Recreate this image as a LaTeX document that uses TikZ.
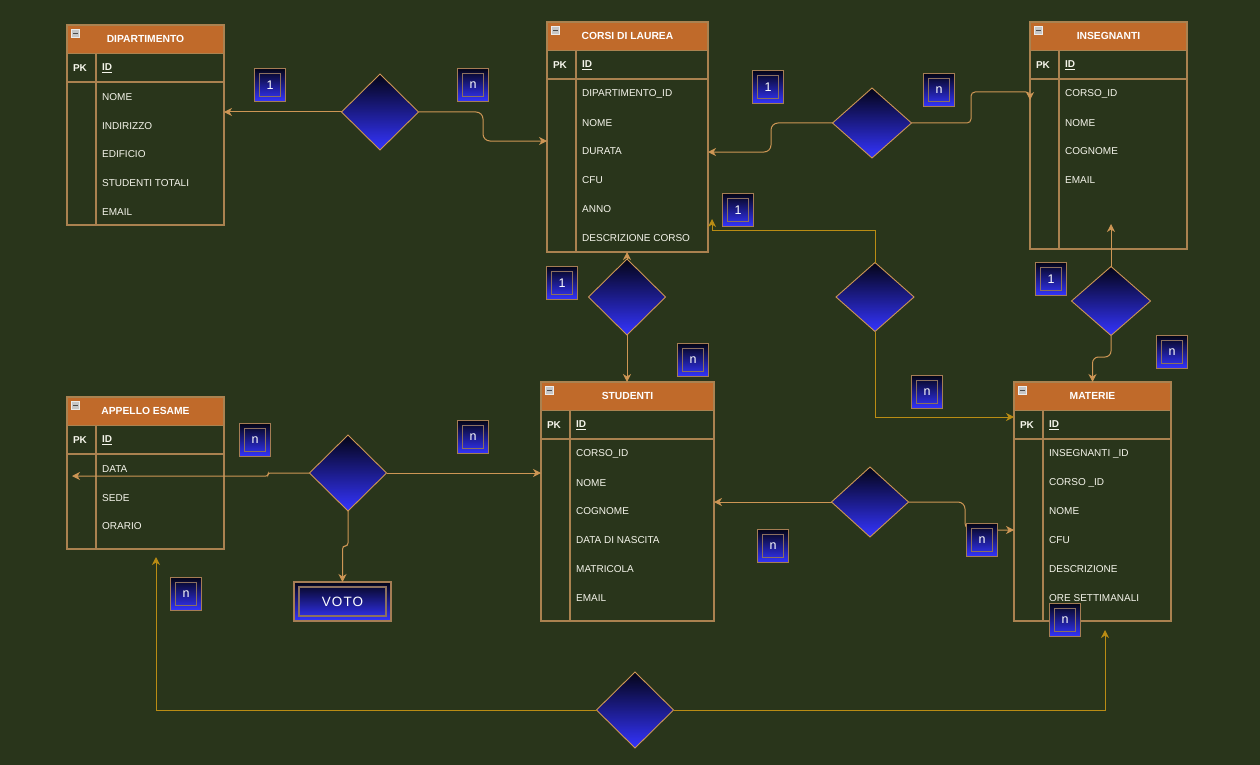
\documentclass[tikz,border=0pt]{standalone}
\usepackage{fontspec}
\setmainfont{Liberation Sans}
\usetikzlibrary{arrows.meta,shapes.geometric}
\definecolor{bg}{RGB}{41,53,27}
\definecolor{hdr}{RGB}{192,106,42}
\definecolor{frame}{RGB}{170,130,80}
\definecolor{conn}{RGB}{205,150,85}
\definecolor{gold}{RGB}{185,140,20}
\definecolor{gtop}{RGB}{4,4,22}
\definecolor{gbot}{RGB}{52,52,255}
\definecolor{cardedge}{RGB}{165,125,85}
\definecolor{cardin}{RGB}{140,112,95}
\definecolor{txt}{RGB}{245,245,235}
\tikzset{
 tframe/.style={draw=frame, line width=1.2pt, inner sep=0pt, outer sep=0pt},
 thead/.style={draw=frame, line width=1.2pt, fill=hdr, inner sep=0pt, outer sep=0pt, text=white, font=\fontsize{10.3}{12}\selectfont\bfseries},
 tline/.style={draw=frame, line width=1.2pt},
 attr/.style={text=txt, font=\fontsize{10}{12}\selectfont, inner sep=0pt, anchor=west},
 pkey/.style={text=txt, font=\fontsize{10}{12}\selectfont\bfseries, inner sep=0pt},
 rel/.style={diamond, draw=conn, line width=0.9pt, top color=gtop, bottom color=gbot, minimum width=77pt, minimum height=76pt, inner sep=0pt, outer sep=0pt, aspect=1},
 card/.style={rectangle, minimum width=31pt, minimum height=33pt, inner sep=0pt, outer sep=0pt, top color=gtop, bottom color=gbot, draw=cardedge, line width=1.5pt, text=white, font=\fontsize{12.5}{14}\selectfont,
   path picture={\draw[cardin, line width=1.5pt] ([shift={(5pt,5pt)}]path picture bounding box.south west) rectangle ([shift={(-5pt,-5pt)}]path picture bounding box.north east);}},
 votobox/.style={rectangle, minimum width=97pt, minimum height=39pt, inner sep=0pt, outer sep=0pt, top color=gtop, bottom color=gbot, draw=cardedge, line width=1.5pt, text=white, font=\fontsize{13.5}{15}\selectfont\addfontfeature{LetterSpace=8},
   path picture={\draw[cardin, line width=1.5pt] ([shift={(5pt,5pt)}]path picture bounding box.south west) rectangle ([shift={(-5pt,-5pt)}]path picture bounding box.north east);}},
 wire/.style={draw=conn, line width=1pt, -{Stealth[length=8pt,width=8pt,inset=2.5pt]}},
 goldwire/.style={draw=gold, line width=1pt, -{Stealth[length=8pt,width=8pt,inset=2.5pt]}},
}
\newcommand\ertable[7]{%
 \node[tframe, anchor=north west, minimum width=#4pt, minimum height=#5pt] (#1) at (#2,#3) {};
 \node[thead, anchor=north west, minimum width=#4pt, minimum height=28.5pt] (#1-h) at (#2,#3) {#6};
 \draw[tline] ({#2},{#3+57}) -- ({#2+#4},{#3+57});
 \draw[tline] ({#2+29},{#3+28.5}) -- ({#2+29},{#3+#5});
 \filldraw[fill=gray!45, draw=gray!15, line width=0.6pt] ({#2+4.5},{#3+4.5}) rectangle ({#2+12.5},{#3+12});
 \draw[black!70, line width=1.3pt] ({#2+6},{#3+8.2}) -- ({#2+11},{#3+8.2});
 \node[pkey] (#1-pk) at ({#2+13},{#3+43}) {PK};
 \node[pkey, anchor=west] (#1-id) at ({#2+35},{#3+43}) {\underline{ID}};
 \foreach \rowtxt [count=\ri from 0] in {#7} \node[attr] (#1-r\ri) at ({#2+35},{#3+72+28.75*\ri}) {\rowtxt};
}
\begin{document}
\begin{tikzpicture}[x=1pt,y=-1pt]
\fill[bg] (0,0) rectangle (1260,765);
\useasboundingbox (0,0) rectangle (1260,765);

% entities
\ertable{dip}{67}{25}{157}{200}{DIPARTIMENTO}{NOME,INDIRIZZO,EDIFICIO,STUDENTI TOTALI,EMAIL}
\ertable{cdl}{547}{22}{161}{230}{CORSI DI LAUREA}{DIPARTIMENTO\_ID,NOME,DURATA,CFU,ANNO,DESCRIZIONE CORSO}
\ertable{ins}{1030}{22}{157}{227}{INSEGNANTI}{CORSO\_ID,NOME,COGNOME,EMAIL}
\ertable{stu}{541}{382}{173}{239}{STUDENTI}{CORSO\_ID,NOME,COGNOME,DATA DI NASCITA,MATRICOLA,EMAIL}
\ertable{mat}{1014}{382}{157}{239}{MATERIE}{INSEGNANTI \_ID,CORSO \_ID,NOME,CFU,DESCRIZIONE,ORE SETTIMANALI}
\ertable{app}{67}{397}{157}{152}{APPELLO ESAME}{DATA,SEDE,ORARIO}

% relationships
\node[rel] (r1) at (380,112) {};
\node[rel, minimum width=79pt, minimum height=70pt] (r2) at (872,123) {};
\node[rel] (r3) at (627,297) {};
\node[rel, minimum width=78pt, minimum height=69pt] (r4) at (875,297) {};
\node[rel, minimum width=79pt, minimum height=69pt] (r5) at (1111,301) {};
\node[rel] (r6) at (348,473) {};
\node[rel, minimum height=70pt] (r7) at (870,502) {};
\node[rel] (r8) at (635,710) {};

\node[votobox] (voto) at (342.5,601.5) {VOTO};

% connectors
\draw[wire] (r1.west) -- (r1.west -| dip.east);
\draw[wire, rounded corners=7pt] (r1.east) -- (483,112) -- (483,141) -- (cdl.west |- 0,141);
\draw[wire, rounded corners=7pt] (r2.west) -- (771,123) -- (771,152) -- (cdl.east |- 0,152);
\draw[wire, rounded corners=4pt] (r2.east) -- (971,123) -- (971,92) -- (ins.west |- 0,92) -- (ins.west |- 0,100);
\draw[wire] (r3.north) -- (r3.north |- cdl.south);
\draw[wire] (r3.south) -- (r3.south |- stu.north);
\draw[goldwire] (r4.north) |- (712,230) -- (712,219);
\draw[goldwire] (r4.south) |- (mat.west |- 0,417);
\draw[wire] (r5.north) -- (r5.north |- 0,224);
\draw[wire, rounded corners=6pt] (r5.south) -- (1111,357) -- (1092.5,357) -- (mat.north);
\draw[wire, rounded corners=2pt] (r6.west) -- (268,473) -- (268,476) -- (72,476);
\draw[wire] (r6.east) -- (r6.east -| stu.west);
\draw[wire, rounded corners=3pt] (r6.south) -- (348,546) -- (342.5,546) -- (voto.north);
\draw[wire] (r7.west) -- (r7.west -| stu.east);
\draw[wire, rounded corners=7pt] (r7.east) -- (965,502) -- (965,530) -- (mat.west |- 0,530);
\draw[goldwire] (r8.west) -| (156,557);
\draw[goldwire] (r8.east) -| (1105,630);

% cardinalities
\node[card] (c1) at (270,85) {1};
\node[card] (c2) at (473,85) {n};
\node[card] (c3) at (768,87) {1};
\node[card] (c4) at (939,90) {n};
\node[card] (c5) at (738,210) {1};
\node[card] (c6) at (562,283) {1};
\node[card] (c7) at (693,360) {n};
\node[card] (c8) at (1051,279) {1};
\node[card] (c9) at (1172,352) {n};
\node[card] (c10) at (927,392) {n};
\node[card] (c11) at (255,440) {n};
\node[card] (c12) at (473,437) {n};
\node[card] (c13) at (773,546) {n};
\node[card] (c14) at (982,540) {n};
\node[card] (c15) at (1065,620) {n};
\node[card] (c16) at (186,594) {n};
\end{tikzpicture}
\end{document}
